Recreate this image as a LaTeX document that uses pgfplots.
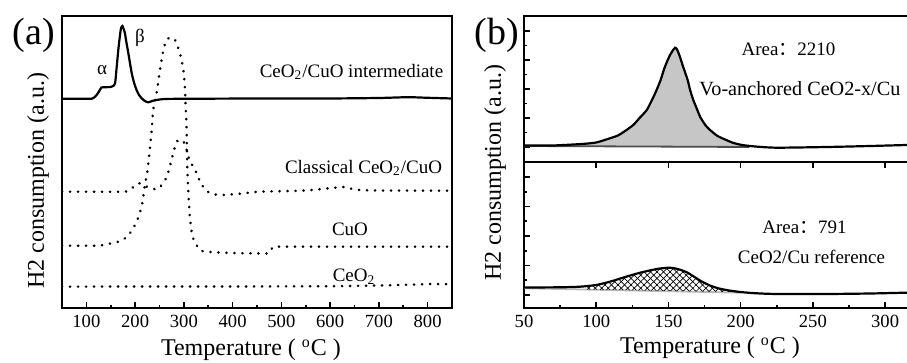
\documentclass[border=0pt]{standalone}
\usepackage{fontspec}
\setmainfont{Liberation Serif}
\newfontfamily\cjk{Noto Sans CJK SC}
\usepackage{pgfplots}
\pgfplotsset{compat=1.18}
\usetikzlibrary{patterns.meta}
\begin{document}
\begin{tikzpicture}
\pgfplotsset{
  every axis/.append style={
    scale only axis,
    anchor=south west,
    axis line style={line width=1pt},
    every tick/.style={line width=0.8pt,black},
    tick align=inside,
    major tick length=2.8pt,
    minor tick length=1.6pt,
    tick label style={font=\fontsize{9.3}{9.3}\selectfont},
    /pgf/number format/assume math mode=true,
    clip=true,
  },
  dotty/.style={black,line width=1.35pt,line cap=round,dash pattern=on 0.1pt off 3.9pt,smooth,tension=0.4},
}
% ---------------- panel (a)
\begin{axis}[at={(31pt,27.5pt)},width=195pt,height=146pt,
  xmin=50,xmax=850,ymin=55,ymax=347,
  xtick={100,200,...,800},minor xtick={150,250,...,750},
  ytick=\empty,xtick pos=lower]
\addplot[black,line width=1.1pt,smooth,tension=0.4] coordinates {
(50,264.3)(100,264.3)(111,264.3)(116,265.5)(121,268)(126,271.5)(131,275.5)(140,275.8)(150,276)
(155,277)(159,280)(162,295)(165.5,313)(168,324)(171,334.7)(174,337)(176.5,334)(179,330)
(182,321)(186,310)(193,290)(198,280)(203,273)(208,268)(213.5,264.7)(220,262)(227,260.7)
(235,262)(244,263)(260,264)(300,264.2)(400,264.4)(500,264.4)(600,264.5)(700,265)(760,265.8)
(800,265.2)(850,264.5)};
\addplot[dotty] coordinates {
(50,117.3)(100,117.3)(128,117.5)(163,121)(175,123)(193,132)(206,145)(214,158)(220,178)
(225,191)(230,213)(234,233)(237,253)(244,270)(251,293)(258,313)(265,323.7)(275,325.3)
(282,323)(292,309.7)(299,293)(302,276.3)(304,253)(305.5,236)(307,196)(310,163)(313,143)
(318,126)(333,113)(354,111)(400,110)(466,109.5)(475,110)(483,116)(500,116.3)(600,116.3)
(700,116.3)(850,116.3)};
\addplot[dotty] coordinates {
(50,171.3)(100,171.3)(179,171.3)(193,174.7)(203,178.5)(210,179.7)(218,177.5)(226,176)
(236,174.5)(244,173.7)(255,178)(265,186.3)(272,198)(278,209.7)(283,218)(288,223)(294,222.5)
(302,219.7)(309,206.3)(316,199)(323,193)(330,185)(337,178)(345,173)(354,169.7)(365,168.5)
(380,168)(420,169.5)(456,171.3)(550,172.5)(626,176)(645,174)(661,173)(700,172.5)(850,172.3)};
\addplot[dotty] coordinates {
(50,76.3)(200,76.5)(400,76.5)(600,76.8)(700,77.5)(780,78.5)(800,79)(850,78.8)};
\end{axis}
% ---------------- panel (b) top
\begin{axis}[at={(262pt,100.5pt)},width=195pt,height=73pt,
  xmin=50,xmax=320,ymin=201,ymax=347,
  xtick=\empty,ytick={216,245,274,303,332},minor y tick num=1,
  yticklabels={},ytick pos=left]
\addplot[fill=gray!45,draw=none] coordinates {
(60,217.5)(70,217.5)(90,219)(100,220.5)(108,224)(115,227.5)(121,233)(126,238.5)(130,245)
(135,253)(138.6,263)(141.5,272)(144.6,283)(147,294)(149.5,303)(151.5,309)(153.5,313.5)
(154.6,315.3)(156,313.5)(158,306)(160,297)(163.3,283)(165,273)(167.2,263)(170,253)(172,246)
(175.5,238)(178.8,233)(184,227)(190,223)(195,220)(201,218)(206,217)(206,216)(60,216.9)};
\addplot[draw=gray!60!black,line width=0.9pt] coordinates {(50,217)(206,216)};
\addplot[black,line width=1.1pt,smooth,tension=0.4] coordinates {
(50,217.5)(70,217.5)(90,219)(100,220.5)(108,224)(115,227.5)(121,233)(126,238.5)(130,245)
(135,253)(138.6,263)(141.5,272)(144.6,283)(147,294)(149.5,303)(151.5,309)(153.5,313.5)
(154.6,315.3)(156,313.5)(158,306)(160,297)(163.3,283)(165,273)(167.2,263)(170,253)(172,246)
(175.5,238)(178.8,233)(184,227)(190,223)(195,220)(201,218)(210,216.5)(225,215.3)(260,216)
(290,217)(320,218.2)};
\end{axis}
% ---------------- panel (b) bottom
\begin{axis}[at={(262pt,27.5pt)},width=195pt,height=73pt,
  xmin=50,xmax=320,ymin=55,ymax=201,
  xtick={50,100,...,300},minor xtick={75,125,...,325},xtick pos=lower,
  ytick={68,97.5,127,156.5,186},minor y tick num=1,
  yticklabels={},ytick pos=left]
\addplot[draw=gray!55,line width=0.9pt] coordinates {(50,74.7)(200,70.3)};
\addplot[pattern={Lines[angle=45,distance=2.3pt,line width=0.35pt]},draw=none] coordinates {
(92,76.8)(100,78)(110,81.5)(121,86.4)(131,90.5)(142,94)(149,95.2)
(153,95)(158,93.3)(163,90.5)(168,86)(173,81.5)(179,77.3)(185,74.5)(192,72.5)(198,71)(198,70.9)(92,73.5)};
\addplot[pattern={Lines[angle=-45,distance=2.3pt,line width=0.35pt]},draw=none] coordinates {
(92,76.8)(100,78)(110,81.5)(121,86.4)(131,90.5)(142,94)(149,95.2)
(153,95)(158,93.3)(163,90.5)(168,86)(173,81.5)(179,77.3)(185,74.5)(192,72.5)(198,71)(198,70.9)(92,73.5)};
\addplot[black,line width=1.1pt,smooth,tension=0.4] coordinates {
(50,75.5)(75,75.7)(88.8,76.3)(100,78)(110,81.5)(121,86.4)(131,90.5)(142,94)(149,95.2)
(153,95)(158,93.3)(163,90.5)(168,86)(173,81.5)(179,77.3)(185,74.5)(192,72.5)(201,70.8)
(211,69.7)(225,69)(260,69)(290,69.5)(320,70.5)};
\end{axis}
\begin{axis}[at={(262pt,27.5pt)},width=195pt,height=73pt,
  xmin=50,xmax=320,ymin=55,ymax=201,axis line style={draw=none},
  xtick={100,150,...,300},xticklabels={},xtick pos=upper,ytick=\empty]
\end{axis}
% ---------------- texts
\node[font=\fontsize{19}{19}\selectfont,inner sep=0] at (17pt,164pt) {(a)};
\node[font=\fontsize{19}{19}\selectfont,inner sep=0] at (248.5pt,164pt) {(b)};
\node[font=\fontsize{9.5}{9.5}\selectfont,inner sep=0] at (51pt,146.5pt) {α};
\node[font=\fontsize{9.5}{9.5}\selectfont,inner sep=0] at (70pt,162.5pt) {β};
\node[font=\fontsize{9.5}{9.5}\selectfont,inner sep=0] at (175.75pt,145.5pt) {CeO\textsubscript{2}/CuO intermediate};
\node[font=\fontsize{9.5}{9.5}\selectfont,inner sep=0] at (181.75pt,97.5pt) {Classical CeO\textsubscript{2}/CuO};
\node[font=\fontsize{9.5}{9.5}\selectfont,inner sep=0] at (175pt,67pt) {CuO};
\node[font=\fontsize{9.5}{9.5}\selectfont,inner sep=0] at (177pt,43pt) {CeO\textsubscript{2}};
\node[font=\fontsize{12}{12}\selectfont,inner sep=0,rotate=90] at (19pt,91pt) {H2 consumption (a.u.)};
\node[font=\fontsize{12}{12}\selectfont,inner sep=0] at (125.5pt,6.5pt) {Temperature ( \textsuperscript{o}C )};
\node[font=\fontsize{9.5}{9.5}\selectfont,inner sep=0] at (394.25pt,157pt) {Area{\cjk ：}2210};
\node[font=\fontsize{10.1}{10.1}\selectfont,inner sep=0,anchor=west] at (349.5pt,137pt) {Vo-anchored CeO2-x/Cu};
\node[font=\fontsize{9.5}{9.5}\selectfont,inner sep=0] at (402.25pt,68pt) {Area{\cjk ：}791};
\node[font=\fontsize{9.5}{9.5}\selectfont,inner sep=0] at (405.75pt,53pt) {CeO2/Cu reference};
\node[font=\fontsize{12}{12}\selectfont,inner sep=0,rotate=90] at (247.5pt,95pt) {H2 consumption (a.u.)};
\node[font=\fontsize{12}{12}\selectfont,inner sep=0] at (355pt,7.5pt) {Temperature ( \textsuperscript{o}C )};
\pgfresetboundingbox
\path[use as bounding box] (0,0) rectangle (453.5pt,181.5pt);
\end{tikzpicture}
\end{document}
